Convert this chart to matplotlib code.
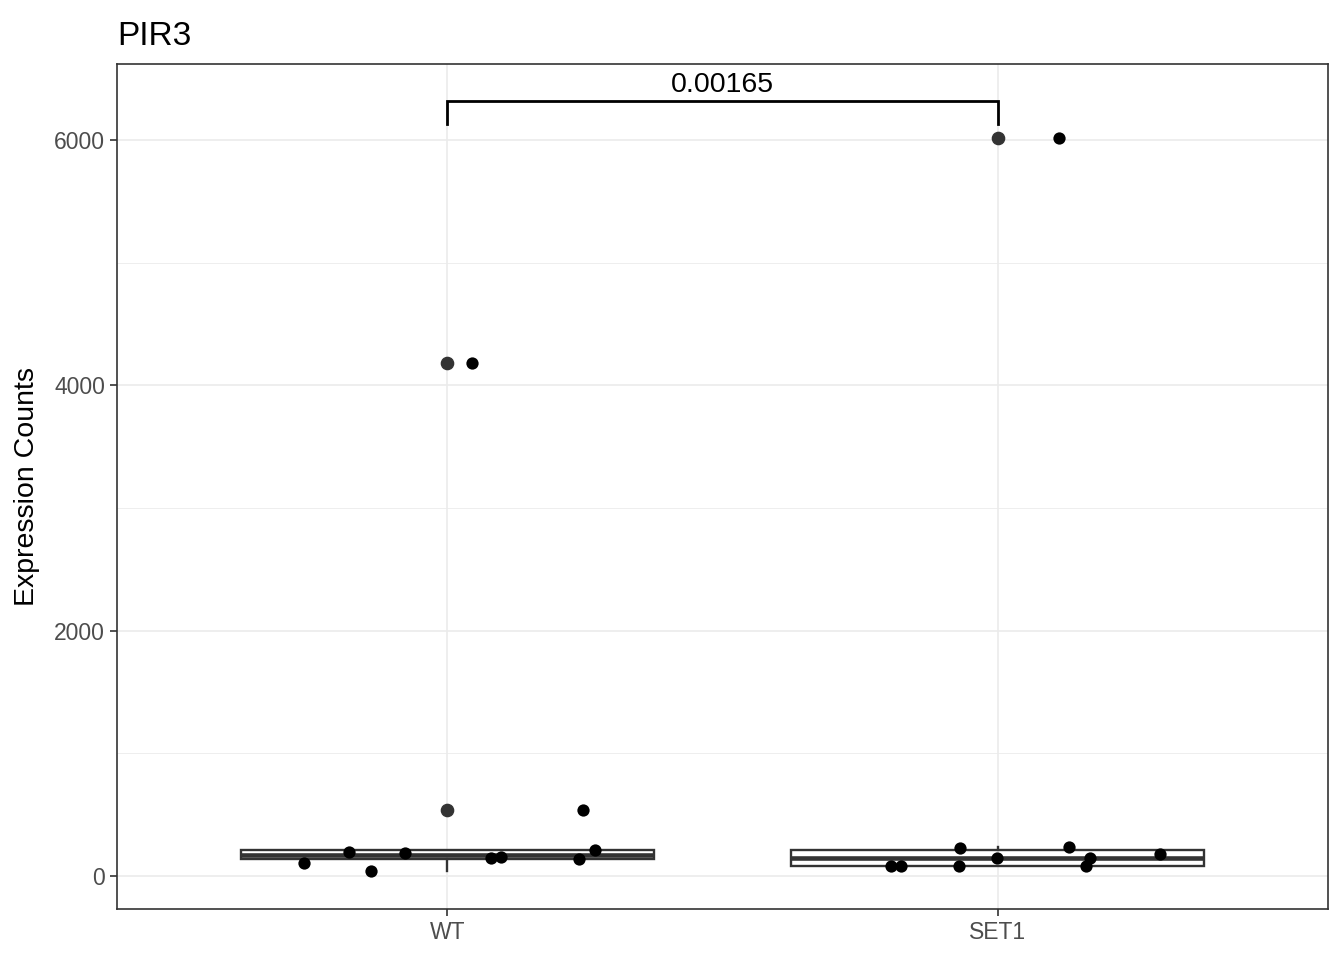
import numpy as np
import matplotlib
matplotlib.use("Agg")
import matplotlib.pyplot as plt

plt.rcParams['font.family'] = ['Liberation Sans', 'DejaVu Sans']

groups = ['WT', 'SET1']
wt_counts = [106, 196, 41, 188, 147, 155, 139, 212, 538, 4182]
wt_jitter = [-0.261, -0.178, -0.139, -0.076, 0.080, 0.098, 0.239, 0.268, 0.246, 0.045]
set1_counts = [82, 82, 82, 228, 147, 236, 82, 147, 179, 6016]
set1_jitter = [-0.194, -0.176, -0.071, -0.069, -0.002, 0.130, 0.161, 0.167, 0.295, 0.112]
p_label = '0.00165'

dark = '#333333'
grid_col = '#EBEBEB'

fig = plt.figure(figsize=(13.44, 9.6), dpi=100)
ax = fig.add_axes([117/1344, 51/960, 1211/1344, 845/960])

# grid
for y in [1000, 3000, 5000]:
    ax.axhline(y, color=grid_col, lw=0.6, zorder=0)
for y in [0, 2000, 4000, 6000]:
    ax.axhline(y, color=grid_col, lw=1.2, zorder=0)
for x in [1, 2]:
    ax.axvline(x, color=grid_col, lw=1.2, zorder=0)

data = [wt_counts, set1_counts]
ax.boxplot(data, positions=[1, 2], widths=0.75, whis=1.5, patch_artist=True,
           boxprops=dict(facecolor='white', edgecolor=dark, linewidth=1.7),
           medianprops=dict(color=dark, linewidth=3.3),
           whiskerprops=dict(color=dark, linewidth=1.7),
           capprops=dict(linewidth=0),
           flierprops=dict(marker='o', markerfacecolor=dark, markeredgecolor=dark,
                           markersize=8.8),
           zorder=2)

# jittered points
for i, (vals, jit) in enumerate([(wt_counts, wt_jitter), (set1_counts, set1_jitter)]):
    xs = np.array(jit) + i + 1
    ax.scatter(xs, vals, s=78, color='black', zorder=3, linewidths=0)

# significance bracket
y_br = 6318
ax.plot([1, 1, 2, 2], [6130, y_br, y_br, 6130], color='black', lw=2, zorder=4,
        solid_joinstyle='miter')
ax.text(1.5, y_br + 25, p_label, ha='center', va='bottom', fontsize=20.5)

ax.set_xlim(0.4, 2.6)
ax.set_ylim(-269, 6620)
ax.set_xticks([1, 2])
ax.set_xticklabels(groups)
ax.set_yticks([0, 2000, 4000, 6000])
ax.tick_params(axis='both', colors=dark, labelcolor='#4D4D4D', labelsize=16.5,
               length=5, width=1.2)
ax.set_ylabel('Expression Counts', fontsize=20.5, labelpad=10)
for s in ax.spines.values():
    s.set_color(dark)
    s.set_linewidth(1.2)
ax.set_title('PIR3', loc='left', fontsize=24, pad=14)

fig.savefig('out.png', dpi=100)
